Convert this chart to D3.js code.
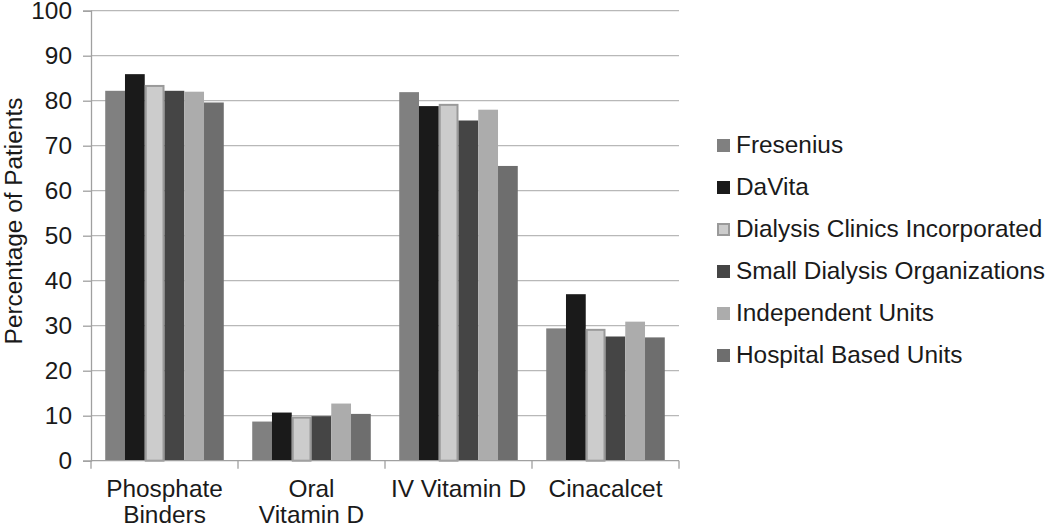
<!DOCTYPE html>
<html><head><meta charset="utf-8">
<script src="https://cdn.jsdelivr.net/npm/d3@7"></script>
<style>body{margin:0;background:#fff}svg{display:block}text{font-family:"Liberation Sans",Arial,sans-serif;fill:#1a1a1a}</style>
</head><body><svg id="c" width="1050" height="527"></svg>
<script>
const categories = ["Phosphate Binders", "Oral Vitamin D", "IV Vitamin D", "Cinacalcet"];
const categoryLines = [["Phosphate","Binders"],["Oral","Vitamin D"],["IV Vitamin D"],["Cinacalcet"]];
const series = ["Fresenius","DaVita","Dialysis Clinics Incorporated","Small Dialysis Organizations","Independent Units","Hospital Based Units"];
const fresenius = [82.2, 8.7, 81.9, 29.4];
const davita = [85.9, 10.7, 78.8, 37.0];
const dci = [83.5, 9.8, 79.3, 29.3];
const sdo = [82.2, 9.9, 75.6, 27.6];
const independent = [82.0, 12.7, 78.0, 30.9];
const hospital = [79.6, 10.4, 65.5, 27.4];
const values = [fresenius, davita, dci, sdo, independent, hospital];
const yTicks = [0,10,20,30,40,50,60,70,80,90,100];
const fills = ["#808080","#1a1a1a","#cccccc","#454545","#acacac","#6e6e6e"];
const strokes = [null,null,"#9a9a9a",null,null,null];

const svg = d3.select("#c");
const FS = 24.4;
const L = 91, R = 679, T = 10.7, B = 460.7;
const x = d3.scaleBand().domain(categories).range([L,R]).paddingInner(0).paddingOuter(0);
const xs = d3.scaleBand().domain(series).range([0,x.bandwidth()]).paddingOuter(0.72).paddingInner(0);
const y = d3.scaleLinear().domain([0,100]).range([B,T]);

// gridlines
svg.append("g").selectAll("line").data(yTicks.filter(d=>d>0)).join("line")
  .attr("x1",L).attr("x2",R).attr("y1",d=>y(d)).attr("y2",d=>y(d))
  .attr("stroke","#b8b8b8").attr("stroke-width",1.3);

// y axis
const ya = svg.append("g").attr("transform",`translate(${L},0)`)
  .call(d3.axisLeft(y).tickValues(yTicks).tickSize(8).tickPadding(11));
ya.select(".domain").attr("stroke","#a0a0a0").attr("stroke-width",1.3);
ya.selectAll(".tick line").attr("stroke","#a0a0a0").attr("stroke-width",1.3);
ya.selectAll(".tick text").attr("font-size",FS).attr("fill","#1a1a1a").attr("font-family","Liberation Sans, Arial, sans-serif");

// bars
series.forEach((s,i)=>{
  const sw = strokes[i] ? 1 : 0;
  svg.append("g").selectAll("rect").data(categories).join("rect")
    .attr("x",(c)=>x(c)+xs(s)+sw)
    .attr("y",(c,j)=>y(values[i][j])+sw)
    .attr("width",xs.bandwidth()-2*sw)
    .attr("height",(c,j)=>B-y(values[i][j])-sw)
    .attr("fill",fills[i])
    .attr("stroke",strokes[i]||"none").attr("stroke-width",sw*2);
});

// x axis
const xa = svg.append("g").attr("transform",`translate(0,${B})`);
xa.append("line").attr("x1",L).attr("x2",R).attr("stroke","#a0a0a0").attr("stroke-width",1.3);
const bounds = categories.map(c=>x(c)).concat([R]);
xa.selectAll("line.t").data(bounds).join("line").attr("class","t")
  .attr("x1",d=>d).attr("x2",d=>d).attr("y1",0).attr("y2",8)
  .attr("stroke","#a0a0a0").attr("stroke-width",1.3);
categories.forEach((c,i)=>{
  const t = xa.append("text").attr("text-anchor","middle").attr("font-size",FS)
    .attr("x",x(c)+x.bandwidth()/2);
  categoryLines[i].forEach((ln,k)=>{
    t.append("tspan").attr("x",x(c)+x.bandwidth()/2).attr("y",36.5+k*26).text(ln);
  });
});

// y title
svg.append("text").attr("transform","translate(22,221) rotate(-90)")
  .attr("text-anchor","middle").attr("font-size",FS).text("Percentage of Patients");

// legend
const lg = svg.append("g");
series.forEach((s,i)=>{
  const cy = 145 + i*42;
  const sw = strokes[i] ? 1 : 0;
  lg.append("rect").attr("x",717+sw).attr("y",cy-6+sw)
    .attr("width",13-2*sw).attr("height",13-2*sw)
    .attr("fill",fills[i]).attr("stroke",strokes[i]||"none").attr("stroke-width",sw*2);
  lg.append("text").attr("x",736).attr("y",cy+8).attr("font-size",FS).text(s);
});
</script></body></html>
